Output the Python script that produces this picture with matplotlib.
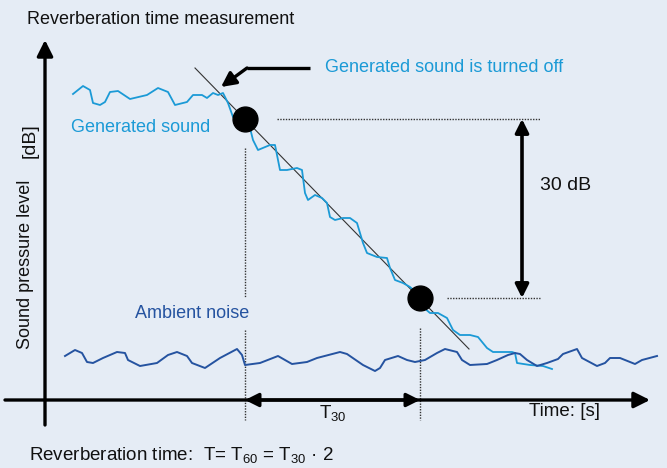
import matplotlib
matplotlib.use("Agg")
import matplotlib.pyplot as plt
from matplotlib import font_manager

# picture is drawn in pixel units (x to the right, y downwards)
gen_x = [73, 83, 90, 93, 100, 105, 110, 118, 130, 147, 158, 168, 175, 187, 193, 202, 207, 213, 218, 223,
         228, 233, 240, 248, 253, 258, 270, 275, 280, 287, 297, 302, 305, 308, 315, 322, 327, 330, 335, 343,
         350, 357, 363, 367, 377, 387, 390, 395, 403, 410, 417, 423, 430, 438, 447, 453, 460, 470, 478, 487,
         493, 512, 515, 517, 530, 543, 552]
gen_y = [94, 86, 90, 103, 105, 102, 92, 91, 99, 95, 88, 92, 105, 102, 95, 95, 98, 93, 95, 93,
         103, 117, 118, 120, 140, 150, 145, 145, 170, 170, 168, 170, 193, 200, 195, 198, 203, 217, 220, 218,
         218, 223, 243, 253, 257, 258, 268, 280, 283, 287, 293, 307, 313, 313, 318, 330, 335, 335, 337, 348,
         352, 352, 353, 363, 365, 366, 369]

amb_x = [65, 75, 82, 87, 93, 103, 117, 125, 128, 140, 157, 168, 177, 187, 192, 205, 220, 237, 242, 245,
         260, 278, 292, 307, 317, 340, 347, 363, 375, 380, 385, 398, 407, 415, 425, 437, 445, 457, 462, 470,
         487, 497, 508, 515, 520, 527, 537, 547, 558, 563, 577, 582, 597, 605, 610, 620, 635, 642, 657]
amb_y = [356, 350, 353, 362, 363, 358, 352, 353, 360, 366, 363, 355, 352, 356, 363, 368, 358, 349, 355, 365,
         363, 356, 364, 362, 358, 352, 354, 365, 371, 368, 360, 356, 360, 362, 360, 353, 349, 352, 360, 365,
         364, 360, 355, 353, 354, 360, 366, 363, 359, 354, 349, 358, 366, 363, 358, 358, 364, 360, 356]

# decay line and the two measuring points (start / -30 dB)
fit_x = [195, 469]
fit_y = [68, 349]
pts_x = [245, 420]
pts_y = [119, 298]

bg = "#e5ecf5"
light_blue = "#1b9ad6"
dark_blue = "#2553a0"

names = {f.name for f in font_manager.fontManager.ttflist}
narrow = "Liberation Sans Narrow" if "Liberation Sans Narrow" in names else "Liberation Sans"
plt.rcParams["font.family"] = "Liberation Sans"
plt.rcParams["mathtext.fontset"] = "custom"
plt.rcParams["mathtext.rm"] = narrow
plt.rcParams["mathtext.it"] = narrow

fig = plt.figure(figsize=(6.67, 4.68), dpi=100, facecolor=bg)
ax = fig.add_axes([0, 0, 1, 1])
ax.set_xlim(0, 667)
ax.set_ylim(468, 0)
ax.axis("off")
ax.set_facecolor(bg)

# dotted helper lines
dot = dict(color="#333333", lw=1.0, linestyle=(0, (1, 1)))
ax.plot([277, 540], [pts_y[0], pts_y[0]], **dot)
ax.plot([447, 540], [pts_y[1], pts_y[1]], **dot)
ax.plot([pts_x[0], pts_x[0]], [148, 298], **dot)
ax.plot([pts_x[0], pts_x[0]], [330, 420], **dot)
ax.plot([pts_x[1], pts_x[1]], [328, 420], **dot)

# axes with arrow heads
ax.annotate("", xy=(45, 40), xytext=(45, 425),
            arrowprops=dict(arrowstyle="-|>", lw=2.4, color="black", mutation_scale=24, shrinkA=0, shrinkB=0))
ax.annotate("", xy=(650, 400), xytext=(5, 400),
            arrowprops=dict(arrowstyle="-|>", lw=2.4, color="black", mutation_scale=24, shrinkA=0, shrinkB=0))

# T30 span
ax.annotate("", xy=(pts_x[0], 400), xytext=(pts_x[1], 400),
            arrowprops=dict(arrowstyle="<|-|>", lw=2.4, color="black", mutation_scale=20, shrinkA=0, shrinkB=0))
# 30 dB span
ax.annotate("", xy=(522, pts_y[0]), xytext=(522, pts_y[1]),
            arrowprops=dict(arrowstyle="<|-|>", lw=2.6, color="black", mutation_scale=20, shrinkA=0, shrinkB=0))

# curves
ax.plot(fit_x, fit_y, color="#333333", lw=0.8)
ax.plot(gen_x, gen_y, color=light_blue, lw=1.3, solid_joinstyle="round")
ax.plot(amb_x, amb_y, color=dark_blue, lw=1.4, solid_joinstyle="round")
ax.scatter(pts_x, pts_y, s=320, color="black", zorder=5)

# bent arrow pointing at switch-off
ax.plot([310, 247], [68, 68], color="black", lw=2.4, solid_capstyle="butt")
ax.annotate("", xy=(221, 87), xytext=(247, 68),
            arrowprops=dict(arrowstyle="-|>", lw=2.4, color="black", mutation_scale=22, shrinkA=0, shrinkB=0))

# texts
ax.text(27, 20, "Reverberation time measurement", fontsize=13, va="center", ha="left", color="#111111")
ax.text(325, 68, "Generated sound is turned off", fontsize=13, va="center", ha="left", color=light_blue)
ax.text(71, 128, "Generated sound", fontsize=13, va="center", ha="left", color=light_blue)
ax.text(135, 313, "Ambient noise", fontsize=13, va="center", ha="left", color=dark_blue)
ax.text(540, 186, "30 dB", fontsize=14, va="center", ha="left", color="#111111")
ax.text(26, 264, "Sound pressure level", fontsize=13, rotation=90, va="center", ha="center", color="#111111")
ax.text(30, 141, "[dB]", fontsize=14, rotation=90, va="center", ha="center", color="#111111")

ax.text(333, 413, r"T$_{30}$", fontsize=13.5, family=narrow, va="center", ha="center", color="#111111")
ax.text(600, 412, "Time: [s]", fontsize=13.5, family=narrow, va="center", ha="right", color="#111111")
ax.text(29, 455, r"Reverberation time:  T= T$_{60}$ = T$_{30}$ · 2", fontsize=13.5, family=narrow,
        va="center", ha="left", color="#111111")

fig.savefig("out.png", dpi=100, facecolor=bg)
